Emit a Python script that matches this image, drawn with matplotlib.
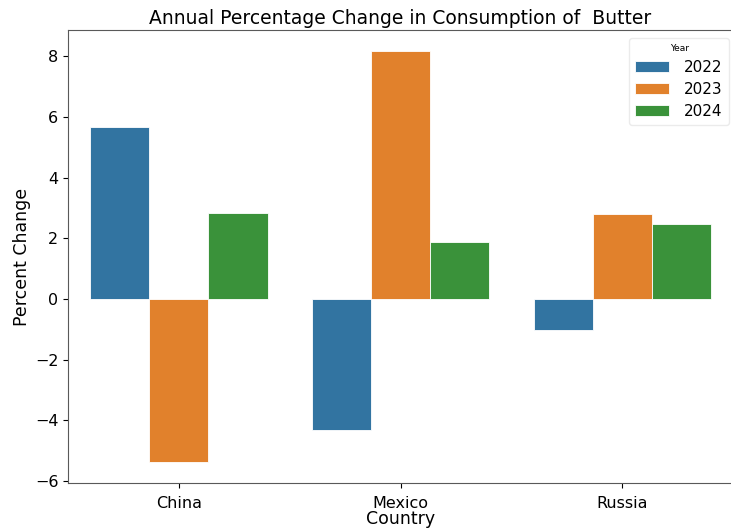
import matplotlib
matplotlib.use("Agg")
import matplotlib.pyplot as plt
import numpy as np

countries = ["China", "Mexico", "Russia"]
years = ["2022", "2023", "2024"]
values_2022 = [5.68, -4.32, -1.02]
values_2023 = [-5.38, 8.18, 2.81]
values_2024 = [2.84, 1.88, 2.48]
colors = ["#3274a1", "#e1812c", "#3a923a"]

series = [values_2022, values_2023, values_2024]

fig = plt.figure(figsize=(7.31, 5.29), dpi=100)
ax = fig.add_axes([68/731, 1-483/529, (733-68)/731, (483-30)/529])

x = np.arange(len(countries))
w = 0.8/3
for i, (yr, vals) in enumerate(zip(years, series)):
    ax.bar(x + (i-1)*w, vals, width=w, color=colors[i], edgecolor="white", linewidth=0.6, label=yr)

ax.set_xlim(-0.5, 2.5)
allv = values_2022 + values_2023 + values_2024
lo, hi = min(allv), max(allv)
m = 0.05*(hi-lo)
ax.set_ylim(lo-m, hi+m)
ax.set_xticks(x)
ax.set_xticklabels(countries)
ax.tick_params(labelsize=11.5)
ax.tick_params(axis="x", pad=5.5)
ax.set_xlabel("Country", fontsize=12.5, labelpad=0)
ax.set_ylabel("Percent Change", fontsize=12.5, labelpad=2.5)
ax.set_title("Annual Percentage Change in Consumption of  Butter", fontsize=13.5, pad=4)
for s in ax.spines.values():
    s.set_color("0.35")
ax.spines["right"].set_visible(False)
leg = ax.legend(title="Year", fontsize=11, title_fontsize=6.5, loc="upper right",
                bbox_to_anchor=((729-68)/665, (483-38)/453), borderaxespad=0,
                labelspacing=0.45, handlelength=2.2, handletextpad=1.0)
leg.get_frame().set_edgecolor("0.9")
fig.savefig("out.png", dpi=100)
